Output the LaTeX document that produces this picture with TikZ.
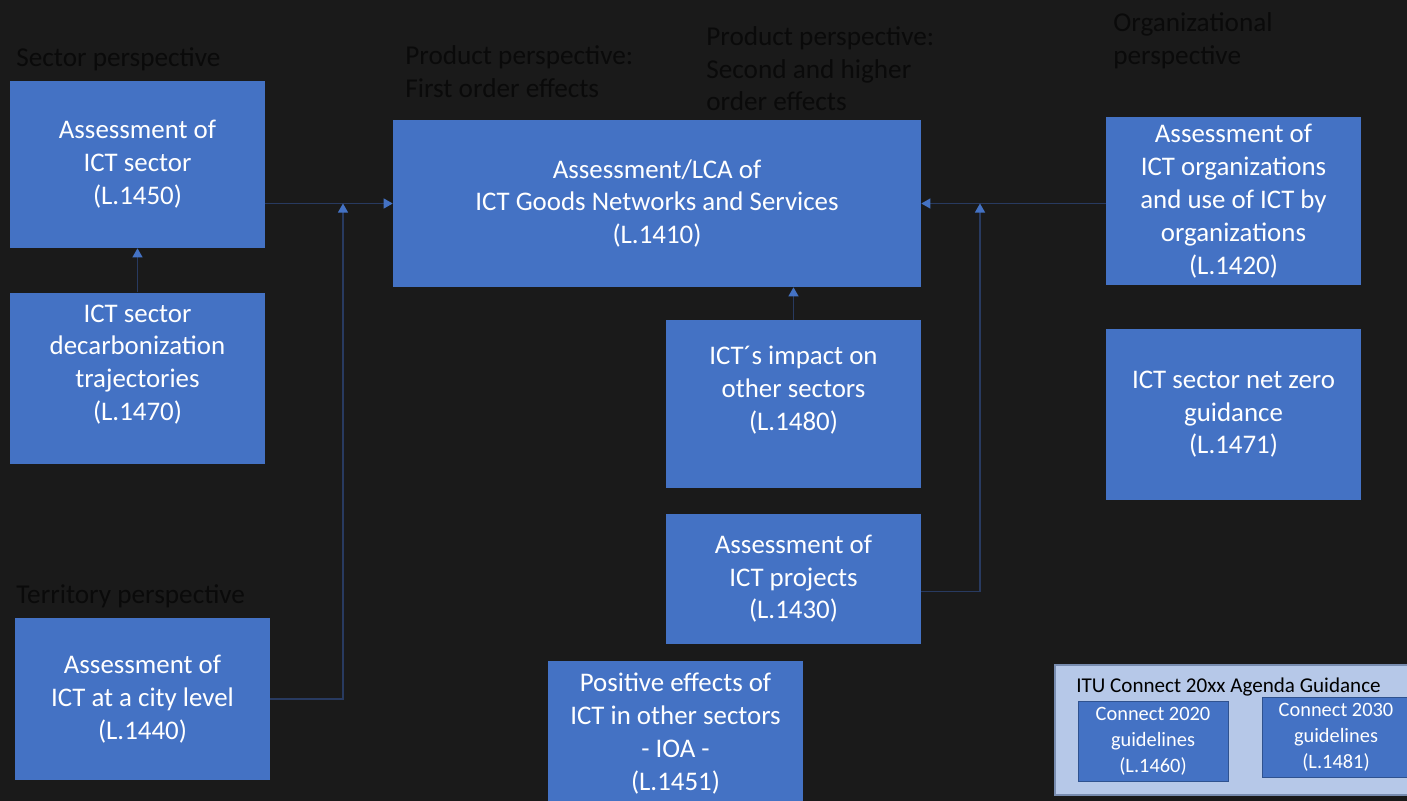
\documentclass[tikz,border=0pt]{standalone}
\usepackage{fontspec}
\setmainfont{Carlito}
\usetikzlibrary{positioning,arrows.meta}
\definecolor{Canvas}{RGB}{26,26,26}
\definecolor{BoxBlue}{RGB}{68,114,196}
\definecolor{DeepBlue}{RGB}{47,82,143}
\definecolor{LinkNavy}{RGB}{40,58,96}
\definecolor{HeadInk}{RGB}{10,10,10}
\definecolor{PaleBlue}{RGB}{182,200,232}
\definecolor{PaleEdge}{RGB}{120,140,175}

\begin{document}
\begin{tikzpicture}[x=0.02cm,y=-0.02cm,
    ictbox/.style={rectangle,fill=BoxBlue,text=white,align=center,minimum width=5.1cm,inner sep=2pt,font=\fontsize{15.3}{18.7}\selectfont},
    persp/.style={anchor=north west,inner sep=0pt,align=left,text=HeadInk,font=\fontsize{15.5}{18.7}\selectfont},
    guideframe/.style={rectangle,draw=PaleEdge,fill=PaleBlue,line width=0.8pt,minimum width=7.3cm,minimum height=2.6cm},
    guidebox/.style={rectangle,draw=DeepBlue,fill=BoxBlue,text=white,align=center,minimum width=3cm,minimum height=1.6cm,font=\fontsize{11.6}{14.7}\selectfont},
    arrow/.style={-{Triangle[length=1.8mm,width=2mm,color=BoxBlue]},LinkNavy,line width=0.6pt}
]
\useasboundingbox (0,0) rectangle (1407,801);
\clip (0,0) rectangle (1407,801);
\fill[Canvas] (0,0) rectangle (1407,801);

% Sector perspective (left)
\node[persp] (sec-title) at (16,47) {Sector perspective};
\node[ictbox,minimum height=3.34cm] (sec-ict) at (137.5,164.5) {Assessment of\\ICT sector\\(L.1450)};
\node[ictbox,minimum height=3.42cm,text depth=0.62cm,below=0.88cm of sec-ict] (sec-traj) {ICT sector\\decarbonization\\trajectories\\(L.1470)};

% Territory perspective
\node[persp] (ter-title) at (16,584) {Territory perspective};
\node[ictbox,minimum height=3.24cm] (ter-city) at (142.5,699) {Assessment of\\ICT at a city level\\(L.1440)};

% Product perspective (center)
\node[persp] (prod-title1) at (405,45) {Product perspective:\\First order effects};
\node[persp] (prod-title2) at (706,26) {Product perspective:\\Second and higher\\order effects};
\node[ictbox,minimum width=10.56cm,minimum height=3.34cm] (prod-lca) at (657,203.5) {Assessment/LCA of\\ICT Goods Networks and Services\\(L.1410)};
\node[ictbox,minimum height=3.36cm,text depth=0.62cm] (prod-impact) at (793.5,404) {ICT´s impact on\\other sectors\\(L.1480)};
\node[ictbox,minimum height=2.6cm,below=0.5cm of prod-impact] (prod-proj) {Assessment of\\ICT projects\\(L.1430)};
\node[ictbox,minimum height=2.9cm] (prod-ioa) at (675.5,733.5) {Positive effects of\\ICT in other sectors\\- IOA -\\(L.1451)};

% Organizational perspective (right)
\node[persp] (org-title) at (1113,12) {Organizational\\perspective};
\node[ictbox,minimum height=3.36cm] (org-ict) at (1233.5,201) {Assessment of\\ICT organizations\\and use of ICT by\\organizations\\(L.1420)};
\node[ictbox,minimum height=3.42cm,below=0.86cm of org-ict] (org-netzero) {ICT sector net zero\\guidance\\(L.1471)};

% ITU Connect guidance
\node[guideframe] (itu-frame) at (1237.5,730) {};
\node[anchor=base west,inner sep=0pt,text=black,font=\fontsize{12}{14}\selectfont] (itu-title) at (1076,692) {ITU Connect 20xx Agenda Guidance};
\node[guidebox] (itu-2020) at (1153,741) {Connect 2020\\guidelines\\(L.1460)};
\node[guidebox,minimum width=2.96cm] (itu-2030) at (1336,737) {Connect 2030\\guidelines\\(L.1481)};

% Connectors
\coordinate (join-left) at (343,203.5);
\coordinate (join-right) at (980,203.5);
\draw[arrow] (sec-traj) -- (sec-ict);
\draw[arrow] (sec-ict.east |- prod-lca.west) -- (prod-lca.west);
\draw[arrow] (ter-city.east) -| (join-left);
\draw[arrow] (prod-impact.north) -- (prod-impact.north |- prod-lca.south);
\draw[arrow] (org-ict.west |- prod-lca.east) -- (prod-lca.east);
\draw[arrow] ([yshift=-0.26cm]prod-proj.east) -| (join-right);

\end{tikzpicture}
\end{document}
